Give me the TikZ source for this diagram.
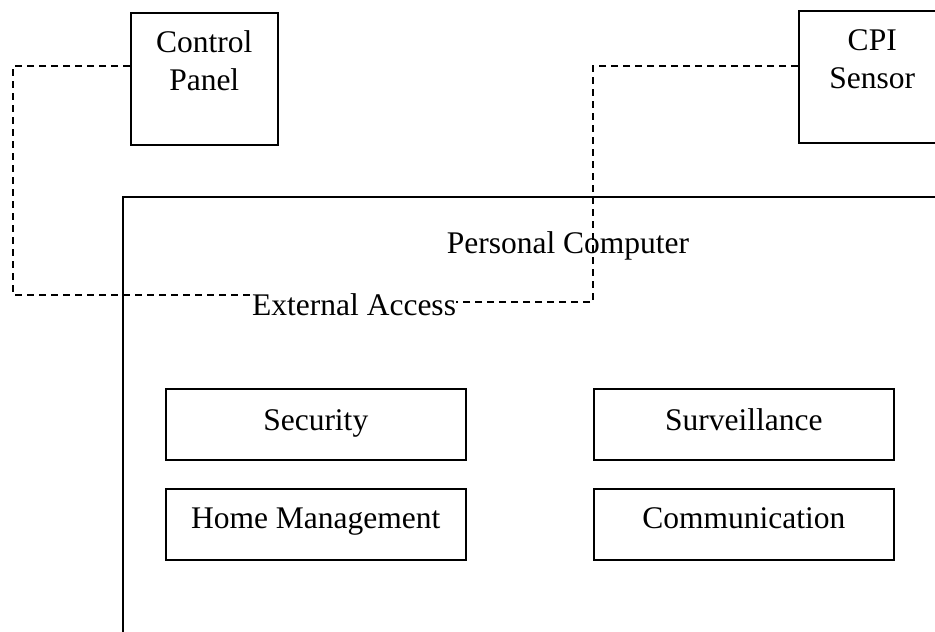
\documentclass[tikz,border=0pt]{standalone}
\usepackage{fontspec}
\setmainfont{Liberation Serif}
\usetikzlibrary{calc}
\begin{document}
\begin{tikzpicture}[x=1pt,y=-1pt,
  box/.style={draw, line width=1.5pt, rectangle, inner sep=0pt, anchor=north west},
  txt/.style={inner sep=0pt, anchor=base, font=\fontsize{31.5}{36}\selectfont},
  conn/.style={draw, line width=1.3pt, dash pattern=on 7pt off 5pt}]
\useasboundingbox (0,0) rectangle (935,632);
\clip (0,0) rectangle (935,632);
% boxes
\node[box, minimum width=147, minimum height=132] (cp) at (130,12) {};
\node[box, minimum width=147, minimum height=132] (cpi) at (798,10) {};
\node[box, minimum width=900, minimum height=500] (pc) at (122,196) {};
\node[box, minimum width=300, minimum height=71] (sec) at (165,388) {};
\node[box, minimum width=300, minimum height=71] (sur) at (593,388) {};
\node[box, minimum width=300, minimum height=71] (hm) at (165,488) {};
\node[box, minimum width=300, minimum height=71] (com) at (593,488) {};
% texts
\node[txt] (cpt1) at ($(cp.north)+(0,40.7)$) {Control};
\node[txt] (cpt2) at ($(cp.north)+(0,78.7)$) {Panel};
\node[txt] (cpit1) at ($(cpi.north)+(0,40.7)$) {CPI};
\node[txt] (cpit2) at ($(cpi.north)+(0,78.3)$) {Sensor};
\node[txt] (pct) at (568,253) {Personal Computer};
\node[txt, anchor=base west] (ext) at (252,315) {External Access};
\node[txt] (sect) at ($(sec.north)+(0,42)$) {Security};
\node[txt] (surt) at ($(sur.north)+(0,42)$) {Surveillance};
\node[txt] (hmt) at ($(hm.north)+(0,40)$) {Home Management};
\node[txt] (comt) at ($(com.north)+(0,40)$) {Communication};
% connectors
\coordinate (cpa) at ($(cp.north west)+(0,54)$);
\coordinate (cpia) at ($(cpi.north west)+(0,56)$);
\coordinate (lb) at (13,295);
\coordinate (rb) at (593,302);
\draw[conn] (cpa) -| (lb) -- (ext.west |- lb);
\draw[conn] (cpia) -| (rb) -- (ext.east |- rb);
\end{tikzpicture}
\end{document}
